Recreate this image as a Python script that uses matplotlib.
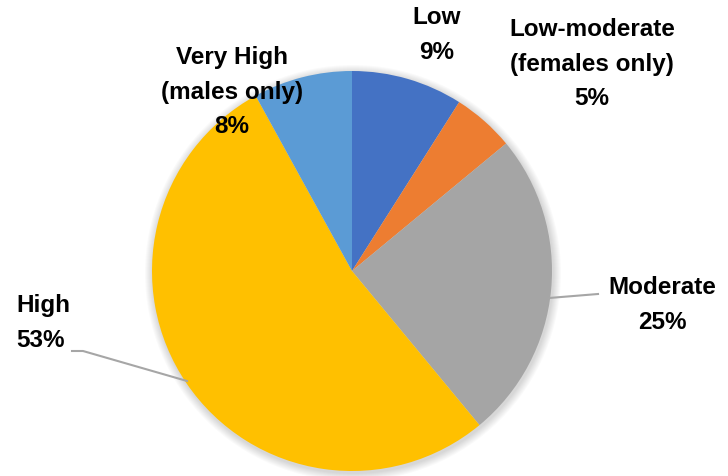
import matplotlib
matplotlib.use("Agg")
import matplotlib.pyplot as plt
from matplotlib.patches import Circle

# data
categories = ["Low", "Low-moderate\n(females only)", "Moderate", "High", "Very High\n(males only)"]
shares = [9, 5, 25, 53, 8]
colors = ["#4472C4", "#ED7D31", "#A5A5A5", "#FFC000", "#5B9BD5"]

W, H = 728, 476
fig = plt.figure(figsize=(W / 100, H / 100), dpi=100)
ax = fig.add_axes([0, 0, 1, 1])

cx, cy, r = 352, H - 271, 200

# soft shadow behind the pie
for i in range(8):
    ax.add_patch(Circle((cx + 1, cy - 2), r + 1 + i, color="black",
                        alpha=0.018, lw=0, zorder=0))

ax.pie(shares, colors=colors, startangle=90, counterclock=False,
       center=(cx, cy), radius=r, frame=True,
       wedgeprops=dict(linewidth=0))
ax.set_xlim(0, W)
ax.set_ylim(0, H)
ax.set_aspect("equal")
ax.axis("off")

font = dict(family="Liberation Sans", fontweight="bold", fontsize=17.5,
            color="black", linespacing=1.62)

# label anchors (x, y from top, alignment)
label_pos = [(437, 35, "center"), (592, 64, "center"), (662, 305, "center"),
             (16, 323, "left"), (232, 92, "center")]
for cat, val, (x, y, ha) in zip(categories, shares, label_pos):
    ax.text(x, H - y, f"{cat}\n{val}%", ha=ha, va="center",
            multialignment=ha, **font)

# leader lines
ax.plot([549, 598], [H - 298, H - 294], color="#A6A6A6", lw=1.5, zorder=5)
ax.plot([72, 83, 187], [H - 351, H - 351, H - 381], color="#A6A6A6", lw=1.5, zorder=5)

fig.savefig("out.png", dpi=100)
